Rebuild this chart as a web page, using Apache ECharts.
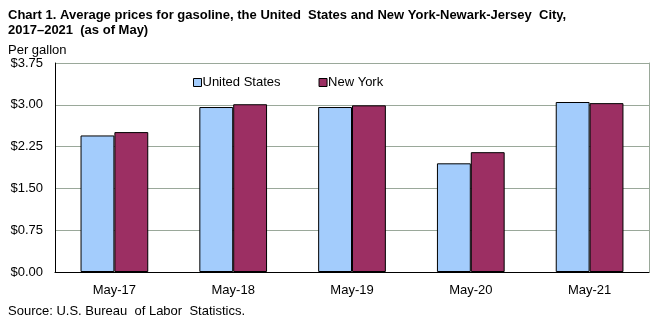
<!DOCTYPE html>
<html>
<head>
<meta charset="utf-8">
<script src="https://cdn.jsdelivr.net/npm/echarts@6/dist/echarts.min.js"></script>
<style>
  html, body { margin: 0; padding: 0; background: #fff; }
  #chart { width: 663px; height: 323px; }
</style>
</head>
<body>
<div id="chart"></div>
<script>
// Average gasoline prices (dollars per gallon), as of May each year
const categories = ['May-17', 'May-18', 'May-19', 'May-20', 'May-21'];
const unitedStates = [2.45, 2.96, 2.96, 1.95, 3.05];
const newYork = [2.51, 3.01, 2.99, 2.15, 3.03];
const yTicks = [0, 0.75, 1.5, 2.25, 3.0, 3.75];

const font = 'Liberation Sans, Arial, sans-serif';
const chart = echarts.init(document.getElementById('chart'));

chart.setOption({
  animation: false,
  textStyle: { fontFamily: font },
  title: [
    {
      text: 'Chart 1. Average prices for gasoline, the United  States and New York-Newark-Jersey  City,\n2017\u20132021  (as of May)',
      left: 8, top: 8, padding: 0,
      textStyle: { fontSize: 13, fontWeight: 'bold', color: '#000', lineHeight: 15, fontFamily: font }
    },
    {
      text: 'Per gallon',
      left: 8, top: 44, padding: 0,
      textStyle: { fontSize: 13, fontWeight: 'normal', color: '#000', fontFamily: font }
    },
    {
      text: 'Source: U.S. Bureau  of Labor  Statistics.',
      left: 8, top: 305, padding: 0,
      textStyle: { fontSize: 13, fontWeight: 'normal', color: '#000', fontFamily: font }
    }
  ],
  legend: {
    top: 71, left: 188,
    itemGap: 38,
    itemWidth: 8, itemHeight: 8,
    icon: 'rect',
    textStyle: { fontSize: 13, color: '#000', padding: [0, 0, 0, -4] },
    data: [
      { name: 'United States', itemStyle: { borderColor: '#000', borderWidth: 1 } },
      { name: 'New York', itemStyle: { borderColor: '#000', borderWidth: 1 } }
    ]
  },
  grid: { left: 55, right: 14, top: 63, bottom: 51, containLabel: false },
  xAxis: {
    type: 'category',
    data: categories,
    axisLine: { lineStyle: { color: '#000', width: 1 } },
    axisTick: { show: false },
    axisLabel: { fontSize: 13, color: '#000', margin: 12 }
  },
  yAxis: [
    {
      type: 'value',
      min: 0, max: 3.75, interval: 0.75,
      axisLine: { show: true, lineStyle: { color: '#000', width: 1 } },
      axisTick: { show: false },
      splitLine: { lineStyle: { color: '#9aa89a', width: 1 } },
      axisLabel: {
        fontSize: 13, color: '#000', margin: 12,
        formatter: v => {
          const t = yTicks.find(x => Math.abs(x - v) < 1e-9);
          return '$' + (t !== undefined ? t : v).toFixed(2);
        }
      }
    },
    {
      type: 'value',
      position: 'right',
      min: 0, max: 3.75, interval: 0.75,
      axisLine: { show: true, lineStyle: { color: '#9aa89a', width: 1 } },
      axisTick: { show: false },
      axisLabel: { show: false },
      splitLine: { show: false }
    }
  ],
  series: [
    {
      name: 'United States',
      type: 'bar',
      data: unitedStates,
      barGap: '0%',
      barCategoryGap: '43%',
      itemStyle: { color: '#a3ccfc', borderColor: '#000', borderWidth: 1 }
    },
    {
      name: 'New York',
      type: 'bar',
      data: newYork,
      itemStyle: { color: '#9c2f63', borderColor: '#000', borderWidth: 1 }
    }
  ]
});
</script>
</body>
</html>
